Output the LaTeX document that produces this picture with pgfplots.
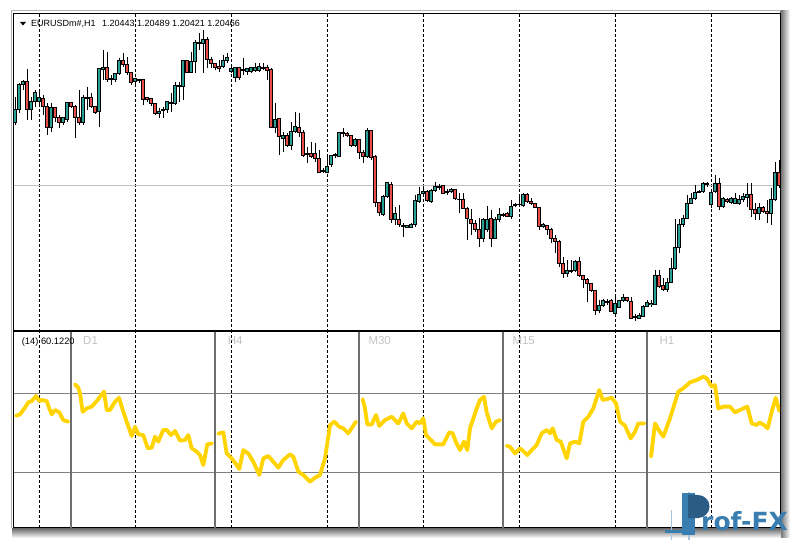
\documentclass[border=0pt]{standalone}
\usepackage{pgfplots}
\usepackage{pgfplotstable}
\pgfplotsset{compat=1.18}
\usepackage{fontspec}
\setmainfont{Liberation Sans}
\newfontfamily\logofont{DejaVu Sans}

\definecolor{bull}{RGB}{40,160,150}
\definecolor{bear}{RGB}{232,78,72}
\definecolor{rsigold}{RGB}{255,212,0}
\definecolor{sep}{RGB}{110,110,110}
\definecolor{lvl}{RGB}{128,128,128}
\definecolor{tflabel}{RGB}{195,195,195}
\definecolor{logoblue}{RGB}{58,125,176}
\definecolor{logodark}{RGB}{42,92,132}
\definecolor{logolight}{RGB}{170,196,220}

% candles: i = bar index, prices in screen px (y axis reversed)
% H/L = wick top/bottom, T/B = body top/bottom, k = 1 up bar, 0 down bar
\pgfplotstableread{
i H L T B k
0 97 125 110 123 1
1 83 113 85 110 1
2 80 90 82 85 1
3 69 120 82 110 0
4 97 120 102 110 1
5 90 107 93 102 1
6 92 106 98 102 1
7 95 115 99 107 0
8 103 135 107 128 0
9 103 132 108 128 1
10 107 122 108 118 0
11 115 128 118 123 0
12 117 125 118 123 1
13 102 122 103 120 1
14 102 108 103 107 0
15 105 138 107 118 0
16 90 125 118 123 0
17 95 125 98 123 1
18 87 110 98 99 1
19 93 108 98 107 0
20 106 114 107 113 0
21 68 127 69 112 1
22 50 80 68 70 1
23 52 82 68 80 0
24 75 85 79 80 0
25 73 82 74 80 1
26 58 75 61 74 1
27 53 67 61 65 0
28 57 75 65 73 0
29 72 85 73 83 0
30 78 87 79 82 1
31 79 83 80 81 0
32 79 105 80 100 0
33 98 102 98 100 0
34 98 106 99 104 0
35 104 115 104 114 0
36 108 118 112 114 1
37 107 118 110 111 1
38 101 113 102 110 1
39 93 112 103 104 1
40 82 105 86 104 1
41 82 102 86 87 1
42 61 100 61 87 1
43 60 73 61 73 0
44 52 73 62 73 1
45 40 73 43 62 1
46 33 50 43 44 1
47 30 73 40 44 1
48 37 68 40 60 0
49 57 68 60 64 0
50 63 70 64 68 0
51 60 72 67 69 0
52 55 68 61 67 1
53 53 63 58 61 1
54 65 73 69 72 1
55 67 82 68 78 1
56 67 80 68 78 0
57 58 75 70 71 0
58 68 75 69 72 1
59 67 73 68 72 1
60 63 72 68 71 1
61 63 72 67 71 1
62 63 70 68 69 0
63 65 80 68 71 0
64 68 128 70 128 0
65 103 133 120 128 1
66 118 155 119 137 0
67 132 152 136 139 1
68 133 147 136 146 0
69 122 150 132 146 1
70 112 133 127 132 1
71 113 137 128 133 0
72 130 157 133 156 0
73 147 163 154 155 0
74 142 158 154 157 0
75 143 162 154 159 0
76 150 173 159 173 0
77 168 173 171 172 0
78 155 173 167 173 1
79 155 167 156 165 1
80 153 158 155 156 1
81 132 157 133 157 1
82 128 137 133 134 1
83 132 137 134 136 0
84 135 147 136 146 0
85 138 147 140 146 1
86 139 159 140 153 0
87 150 163 153 157 0
88 128 158 131 157 1
89 130 160 131 158 0
90 155 207 157 203 0
91 202 216 203 213 0
92 195 216 197 215 1
93 181.7 198 183 197 1
94 181.7 223 185 220 0
95 206.7 225 214 220 1
96 205 226.7 219.3 225 0
97 223.3 236.7 225.7 226.3 0
98 225 228.3 225.7 227.7 1
99 223.3 228.3 224.3 227.7 1
100 195 226.7 201 224.3 1
101 186.7 203.3 195 201.7 1
102 187.3 195 191.7 193.3 1
103 190 201.7 191.7 200.7 0
104 189.3 202.7 190.7 201.7 1
105 181.7 191.7 186.7 190.7 1
106 184 190 186.7 187.3 1
107 185 194 186 193.3 0
108 189.3 195 191.7 192.3 0
109 188.3 192.7 190 191.7 1
110 189.3 200 190 199 0
111 193.3 213.3 199.3 200 0
112 193.3 209.3 199.3 208.3 0
113 206.7 240 208.3 218.3 0
114 209.3 235 219.3 223.3 0
115 220 231.7 223.3 230 0
116 218.3 246.7 230 239 0
117 218.3 241.7 220 239 1
118 206 231.7 219.3 230 1
119 210 247.3 218.3 238.3 0
120 216.7 239.3 219.3 238.3 1
121 208.3 221.7 215 220 1
122 212.7 217.3 215 215.7 1
123 211.7 217.3 213.3 216.7 0
124 200 219.3 206.7 216.7 1
125 202.7 206.7 205 205.7 1
126 196.7 206.7 204.3 205 1
127 192.7 206.7 194.3 206 1
128 193.3 202.7 194.3 201.7 0
129 198.3 205 201.7 203.3 0
130 202.7 208.3 203.3 207.3 0
131 206.7 230 207.7 226.7 0
132 223.3 228.3 225 226.7 1
133 225 235 225.7 229.3 0
134 228.3 243.3 229.3 238.3 0
135 235 253.3 238.3 241.7 0
136 240 266.7 241.7 263.3 0
137 256.7 278.3 263.3 273.3 0
138 260 276.7 270.7 273.3 1
139 260 273.3 270.7 271.3 1
140 260 271.7 261.7 270.7 1
141 256.7 276.7 261.7 276 0
142 275 288.3 276 279.3 0
143 278.3 301.7 280 283.3 0
144 282.7 291.7 283.3 290.7 0
145 290 315 291 310.7 0
146 300 313.3 306 310.7 1
147 299.3 306.7 301 306 1
148 299.3 305 301.7 302.3 1
149 299.3 312.3 301 311.7 0
150 296 315 304 313.3 1
151 300 308.3 301 307.3 1
152 294 301.7 297.3 301 1
153 296.7 301.7 297.7 301 0
154 296.7 319.3 301.7 318.3 0
155 314 320.7 316.7 317.3 0
156 313.3 319.3 315 318.3 1
157 305 317.3 306.7 316.7 1
158 300 307.3 302.7 306.7 1
159 300 306.7 303.3 305 1
160 270 305 276 305 1
161 270 288.3 276 286.7 0
162 278.3 290.7 286 290 0
163 278.3 291.7 282.7 290 1
164 258.3 283.3 268.3 282.7 1
165 219.3 270 247.3 268.3 1
166 219.3 252.7 225 247.3 1
167 215 226.7 218.3 225 1
168 195 218.3 203.3 218.3 1
169 193.3 204 199 203.3 1
170 185 200 192.3 199 1
171 190 193.3 191.7 192.3 1
172 181.7 192.7 183.3 191.7 1
173 181.7 186.7 184 184.7 1
174 190 208.3 192.3 205 1
175 175 192.7 184 191.7 1
176 178.3 210 184 206.7 0
177 196.7 208.3 198.3 206.7 1
178 198.3 202.7 199.3 201.7 0
179 196.7 204 198.3 202.7 1
180 193.3 204 198.3 203.3 1
181 195 205 199.3 203.3 1
182 193.3 201.7 196.7 200 1
183 183.3 206.7 195 197.3 1
184 183 217 195 209.3 0
185 203.3 220 209.3 213.3 0
186 203.3 220 207.3 213.3 1
187 206 213.3 207.3 211.7 0
188 200 223.3 211.7 214 0
189 188 225 199.3 214 1
190 161.7 200.7 172.7 199.3 1
191 160 188.3 172.7 186 0
}\candles

% RSI(14) of several timeframes, one block per section
\pgfplotstableread{
px rsi
16.0 58.5
20.0 59.2
25.0 62.6
28.3 65.3
31.7 65.9
36.0 68.5
39.3 65.9
41.7 66.5
46.7 65.9
49.3 62.2
51.7 59.2
55.0 61.4
59.3 60.2
63.3 56.3
68.3 55.5
nan nan
75.0 74.4
78.3 72.7
80.0 69.8
82.7 60.5
86.7 62.2
91.7 63.1
96.7 65.9
100.0 68.1
104.0 70.7
106.7 61.4
110.0 61.4
115.0 65.6
119.0 67.6
121.7 63.1
126.7 55.5
131.7 48.2
135.0 52.9
138.3 49.1
143.3 48.7
147.7 42.0
151.7 42.3
155.0 47.9
158.3 45.4
163.3 51.3
166.7 51.3
171.0 48.7
175.0 50.8
180.0 45.9
185.0 46.2
188.3 48.7
191.7 42.0
196.7 40.3
200.0 38.6
203.3 33.5
207.3 44.0
212.0 44.5
nan nan
218.3 49.4
223.3 50.1
226.7 39.4
231.7 36.9
236.7 33.5
239.3 31.5
243.3 41.1
248.3 39.4
253.3 35.2
259.3 28.5
263.3 36.9
268.3 38.1
272.7 35.6
278.3 32.2
283.3 36.1
290.0 38.9
293.3 37.8
298.3 30.2
303.3 28.5
310.0 25.1
315.0 27.1
320.0 28.5
325.0 36.9
330.0 53.8
334.3 55.5
339.3 52.9
343.3 52.1
348.3 49.6
356.0 55.5
nan nan
362.7 66.9
365.0 62.2
367.3 54.1
371.7 54.1
376.0 58.9
379.3 53.3
385.0 56.3
391.7 58.0
398.3 54.6
403.3 59.7
406.7 54.6
411.7 52.1
416.7 55.5
420.0 54.6
423.3 57.2
426.0 48.7
430.0 46.7
435.0 44.0
443.3 44.0
449.3 50.1
452.7 49.6
456.0 45.0
460.0 41.1
464.0 45.4
467.3 41.1
470.0 52.1
476.7 62.2
480.0 66.5
484.0 68.1
486.7 60.2
491.7 52.1
496.0 55.5
500.0 56.3
nan nan
506.7 43.3
510.0 42.8
515.0 39.4
520.0 42.0
523.3 40.6
527.3 38.6
531.7 41.1
536.7 43.7
541.7 49.6
546.7 51.3
550.0 49.6
552.7 52.1
556.7 46.2
560.7 45.4
566.7 36.9
570.0 44.5
575.0 45.4
579.3 44.5
583.3 55.5
588.3 58.0
593.3 62.2
596.0 66.5
599.3 71.5
602.7 66.5
606.7 66.9
611.7 67.6
616.0 64.8
620.0 55.5
625.0 53.5
630.7 47.0
635.0 50.4
638.3 54.6
644.3 54.6
nan nan
651.0 37.8
655.0 54.6
659.3 50.8
663.3 47.9
670.0 57.2
678.3 70.7
683.3 72.4
690.0 75.4
696.7 76.6
703.3 78.3
706.7 77.4
711.7 73.2
715.0 74.0
718.3 62.2
723.3 63.1
730.0 63.1
735.0 60.2
740.0 61.4
747.3 63.1
751.7 54.6
756.7 53.8
759.3 55.1
763.3 54.1
767.7 52.1
771.7 60.5
775.7 67.6
779.3 60.9
}\rsi

\pgfplotsset{
  panel/.style={scale only axis, anchor=south west, width=766pt,
    xticklabels={}, yticklabels={}, major tick length=0pt,
    axis line style={black, line width=1pt}},
  pricepanel/.style={panel, at={(14pt,210pt)}, height=316pt,
    xmin=-0.33, xmax=191.17, ymin=14, ymax=330, y dir=reverse},
  dashgrid/.style={x grid style={black, line width=0.8pt, dash pattern=on 3pt off 2pt}},
  candlebar/.style 2 args={draw=none, mark=none, forget plot,
    error bars/.cd, y dir=plus, y explicit, error mark=none,
    error bar style={draw=#1, line width=#2, line cap=butt},
    /pgfplots/.cd},
}

\begin{document}
\begin{tikzpicture}[x=1pt,y=1pt]
\useasboundingbox (0,0) rectangle (791,540);
\fill[white] (0,0) rectangle (791,540);
% window shadow and outer border
\shade[left color=black!60, right color=white] (780,3) rectangle (790,529);
\shade[top color=black!60, bottom color=white] (12,2) rectangle (781,12);
\draw[black!30, line width=1pt] (11,12) -- (11,529) -- (781,529);

% price panel: frame, grid and candles
\begin{axis}[pricepanel, dashgrid,
    xtick={6,30,...,174}, xmajorgrids,
    ytick={186}, ymajorgrids,
    y grid style={black!25, line width=1pt}]
  % wicks
  \addplot[candlebar={black}{1pt}]
    table[x=i, y=H, y error expr={\thisrow{L}-\thisrow{H}}] {\candles};
  % body outline
  \addplot[candlebar={black}{3.8pt}]
    table[x=i, y expr={\thisrow{T}-0.5}, y error expr={\thisrow{B}-\thisrow{T}+1}] {\candles};
  % body fill, up bars
  \addplot[restrict expr to domain={\thisrow{k}}{0.5:1.5}, candlebar={bull}{2pt}]
    table[x=i, y expr={\thisrow{T}+0.5}, y error expr={max(\thisrow{B}-\thisrow{T}-1,0)}] {\candles};
  % body fill, down bars
  \addplot[restrict expr to domain={\thisrow{k}}{-0.5:0.5}, candlebar={bear}{2pt}]
    table[x=i, y expr={\thisrow{T}+0.5}, y error expr={max(\thisrow{B}-\thisrow{T}-1,0)}] {\candles};
\end{axis}

% indicator panel
\begin{axis}[panel, dashgrid, at={(14pt,12pt)}, height=196pt,
    xmin=14, xmax=780, ymin=1.65, ymax=100.9,
    xtick={39.33,135.33,231.33,327.33,423.33,519.33,615.33,711.33}, xmajorgrids,
    ytick={30,70}, ymajorgrids,
    y grid style={lvl, line width=1pt},
    unbounded coords=jump]
  \addplot[ycomb, sep, line width=1.5pt, mark=none]
    coordinates {(71,101) (215,101) (359,101) (503,101) (647,101)};
  \addplot[rsigold, line width=3.8pt, line join=round, line cap=round, mark=none]
    table[x=px, y=rsi] {\rsi};
\end{axis}

% texts
\fill[black] (20,518) -- (26,518) -- (23,514.5) -- cycle;
\node[anchor=base west, inner sep=0pt, font=\fontsize{9}{10}\selectfont]
  at (31,513.3) {EURUSDm\#,H1\hspace{4pt} 1.20443 1.20489 1.20421 1.20466};
\node[anchor=base west, inner sep=0pt, font=\fontsize{9.3}{10}\selectfont]
  at (21.7,195) {(14) 60.1220};
\begin{scope}[every node/.style={anchor=base west, inner sep=0pt, text=tflabel,
    font=\fontsize{11.5}{12}\selectfont}]
  \node at (83,195.7) {D1};
  \node at (227.7,195.7) {H4};
  \node at (368.3,195.7) {M30};
  \node at (512.3,195.7) {M15};
  \node at (659.3,195.7) {H1};
\end{scope}

% logo
\draw[logolight, line width=1.2pt] (671.5,0) -- (671.5,30);
\draw[logolight, line width=1.2pt] (689,0) -- (689,48);
\fill[logoblue] (665,7) rectangle (682,10.5);
\fill[logoblue] (682,5) rectangle (695,47);
\fill[logodark] (688,45) -- (698,45) arc (90:-90:11.5) -- (688,22) -- cycle;
\node[anchor=base west, inner sep=0pt, text=logoblue,
  font=\logofont\bfseries\fontsize{25}{26}\selectfont] at (701,10) {rof-FX};
\end{tikzpicture}
\end{document}
